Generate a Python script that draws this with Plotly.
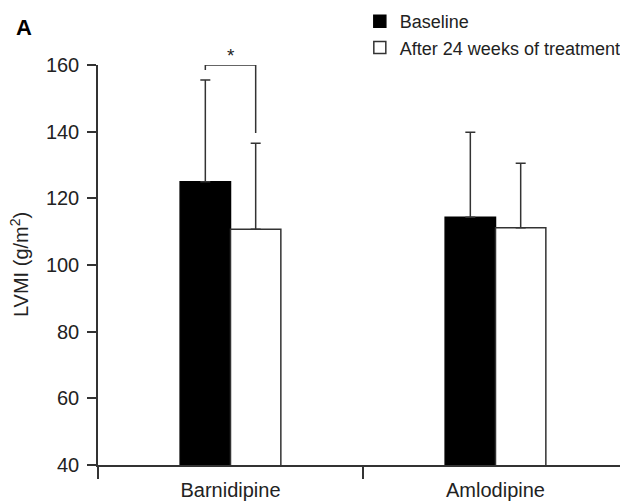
import plotly.graph_objects as go

categories = ["Barnidipine", "Amlodipine"]
baseline = [125.0, 114.3]
baseline_sd = [30.5, 25.5]
after = [110.7, 111.2]
after_sd = [25.8, 19.3]
series_names = ["Baseline", "After 24 weeks of treatment"]
y_ticks = [40, 60, 80, 100, 120, 140, 160]

AX = "#333333"
TXT = "#222222"
fig = go.Figure()
fig.add_trace(go.Bar(
    x=categories, y=baseline, name=series_names[0], legendgroup="a",
    marker=dict(color="black", line=dict(color="black", width=1.5)),
    error_y=dict(type="data", symmetric=False, array=baseline_sd,
                 arrayminus=[0, 0], color=AX, thickness=1.5, width=5),
))
fig.add_trace(go.Bar(
    x=categories, y=after, name=series_names[1], legendgroup="b",
    marker=dict(color="white", line=dict(color=AX, width=1.5)),
    error_y=dict(type="data", symmetric=False, array=after_sd,
                 arrayminus=[0, 0], color=AX, thickness=1.5, width=5),
))

# significance bracket (Barnidipine baseline vs after)
fig.add_shape(type="path",
              path="M -0.095,158.5 L -0.095,160 L 0.095,160 L 0.095,139.6",
              line=dict(color=AX, width=1.5), xref="x", yref="y")
fig.add_annotation(x=0, y=1.025, xref="x", yref="paper", text="*", showarrow=False,
                   xanchor="center", yanchor="middle",
                   font=dict(size=19, color=TXT))

fig.add_annotation(xref="paper", yref="paper", x=-0.158, y=1.095, text="<b>A</b>",
                   showarrow=False, xanchor="left", yanchor="middle",
                   font=dict(size=22, color="black"))
fig.add_annotation(xref="paper", yref="paper", x=-0.149, y=0.5,
                   text="LVMI (g/m<sup>2</sup>)", textangle=-90, showarrow=False,
                   xanchor="center", yanchor="middle",
                   font=dict(size=20, color=TXT))

fig.update_layout(
    width=620, height=493,
    margin=dict(l=90, r=0, t=57, b=36, autoexpand=False),
    plot_bgcolor="white", paper_bgcolor="white",
    barmode="group", bargap=0.62, bargroupgap=0,
    font=dict(family="Liberation Sans, Arial, sans-serif", color=TXT),
    showlegend=True,
    legend=dict(x=0.494, y=1.155, xanchor="left", yanchor="top",
                font=dict(size=18, color=TXT), tracegroupgap=0,
                bgcolor="rgba(0,0,0,0)"),
    xaxis=dict(type="category", range=[-0.5, 1.5], tickson="boundaries",
               ticks="outside", ticklen=12, tickwidth=1.5, tickcolor=AX,
               showline=True, linecolor=AX, linewidth=1.5, showgrid=False,
               ticklabelstandoff=6, automargin=False,
               tickfont=dict(size=20, color=TXT)),
    yaxis=dict(range=[40, 160], tickvals=y_ticks, ticks="outside", ticklen=9,
               tickwidth=1.5, tickcolor=AX, showline=True, linecolor=AX,
               linewidth=1.5, showgrid=False, zeroline=False,
               ticklabelstandoff=4, automargin=False,
               tickfont=dict(size=20, color=TXT)),
)

fig.write_html("out.html")
